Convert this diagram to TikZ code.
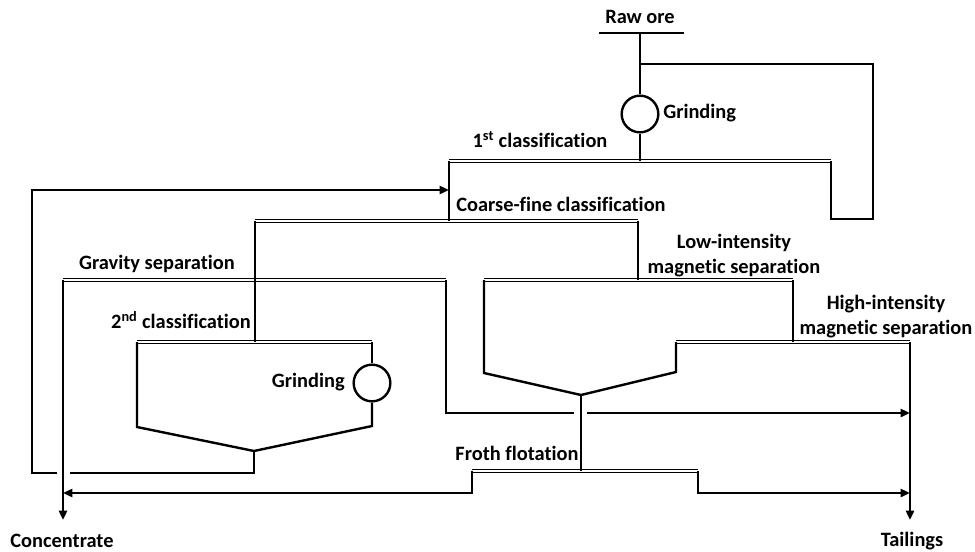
\documentclass[tikz,border=0pt]{standalone}
\usepackage{fontspec}
\setmainfont{Carlito}[Ligatures=NoCommon]
\usetikzlibrary{arrows.meta}

\begin{document}
\begin{tikzpicture}[x=0.75pt,y=0.75pt,yscale=-1,xscale=1,
	flow/.style={line width=1.8pt},
	screen/.style={double,double distance=1.2pt,line width=1.1pt},
	arr/.style={flow,-{Triangle[length=7pt,width=6pt]}},
	mill/.style={circle,draw,line width=1.8pt,minimum size=27.5pt,inner sep=0pt},
	lbl/.style={inner sep=0.75pt,font=\bfseries\fontsize{15.3}{18.75}\selectfont}]
			\useasboundingbox (0,0) rectangle (975,551);

			%Points [feed and screens]
			\coordinate (rawL) at (599,33); \coordinate (rawR) at (684,33); \coordinate (raw) at (640,33);
			\coordinate (s1L) at (449,161); \coordinate (s1R) at (831,161); \coordinate (s1M) at (640,161);
			\coordinate (s2L) at (255,221); \coordinate (s2R) at (638,221);
			\coordinate (s3L) at (63,280); \coordinate (s3R) at (446,280);
			\coordinate (s4L) at (484,280); \coordinate (s4R) at (793,280);
			\coordinate (s5L) at (676,342); \coordinate (s5R) at (910,342);
			\coordinate (s6L) at (472,471); \coordinate (s6R) at (698,471);
			\coordinate (s7L) at (137,342); \coordinate (s7R) at (372,342);
			\coordinate (apex4) at (581,395); \coordinate (apex7) at (254,451);
			\coordinate (con) at (63,520); \coordinate (tail) at (910,520);

			%Shape: Circle [mills]
			\node[mill] (mill1) at (640,114) {};
			\node[mill] (mill2) at (372,383) {};

			%Shape: Screens
			\draw[flow] (rawL) -- (rawR);
			\draw[screen] (s1L) -- (s1R);
			\draw[screen] (s2L) -- (s2R);
			\draw[screen] (s3L) -- (s3R);
			\draw[screen] (s4L) -- (s4R);
			\draw[screen] (s5L) -- (s5R);
			\draw[screen] (s6L) -- (s6R);
			\draw[screen] (s7L) -- (s7R);

			%Straight Lines [grinding circuit]
			\draw[flow] (raw) -- (mill1.north);
			\draw[flow] (mill1.south) -- (s1M);
			\draw[flow] (640,64) -- (873,64) -- (873,219) -- (831,219) -- (s1R);
			\draw[flow] (s1L) -- (449,221);
			\draw[flow] (s2R) -- (638,280);
			\draw[flow] (s2L) -- (255,342);

			%Straight Lines [magnetic separation]
			\draw[flow] (s4L) -- (484,373) -- (apex4) -- (676,372) -- (s5L);
			\draw[flow] (s4R) -- (793,342);
			\draw[arr] (s5R) -- (tail);
			\draw[flow] (apex4) -- (581,471);

			%Straight Lines [gravity and 2nd classification]
			\draw[arr] (s3L) -- (con);
			\draw[flow] (s3R) -- (446,413) -- (574,413);
			\draw[arr] (587,413) -- (910,413);
			\draw[flow] (s7R) -- (mill2.north);
			\draw[flow] (mill2.south) -- (372,426) -- (apex7) -- (137,427) -- (s7L);
			\draw[flow] (apex7) -- (254,473) -- (70,473);
			\draw[arr] (57,473) -- (32,473) -- (32,190) -- (449,190);

			%Straight Lines [froth flotation]
			\draw[arr] (s6L) -- (472,493) -- (63,493);
			\draw[arr] (s6R) -- (698,493) -- (910,493);

			% Text Node
			\node[lbl] (rawlbl) at (640,17) {Raw ore};
			\node[lbl,anchor=west] (mill1lbl) at (662,113) {Grinding};
			\node[lbl] (s1lbl) at (540,140) {1\textsuperscript{st} classification};
			\node[lbl] (s2lbl) at (561,204) {Coarse-fine classification};
			\node[lbl,align=center] (s4lbl) at (734,256) {Low-intensity\\magnetic separation};
			\node[lbl] (s3lbl) at (157,264) {Gravity separation};
			\node[lbl] (s7lbl) at (181,320) {2\textsuperscript{nd} classification};
			\node[lbl,align=center] (s5lbl) at (886,317) {High-intensity\\magnetic separation};
			\node[lbl,anchor=east] (mill2lbl) at (346,382) {Grinding};
			\node[lbl] (s6lbl) at (517,453) {Froth flotation};
			\node[lbl] (conlbl) at (62,541) {Concentrate};
			\node[lbl] (taillbl) at (912,541) {Tailings};

		\end{tikzpicture}
\end{document}
